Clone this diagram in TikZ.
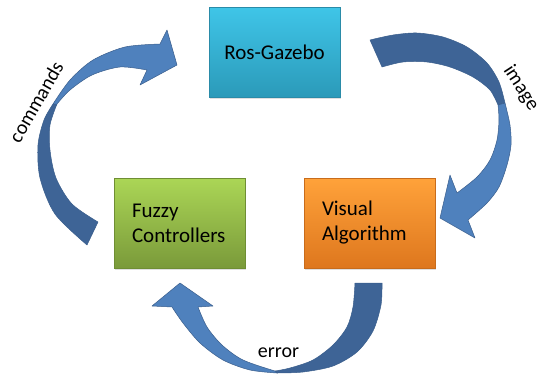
\documentclass[tikz,border=0pt]{standalone}
\usepackage{fontspec}
\setmainfont{Carlito}
\usetikzlibrary{shadows}
\definecolor{arrlight}{HTML}{4F81BD}
\definecolor{arrdark}{HTML}{3E6496}
\definecolor{arredge}{HTML}{3A5E8C}
\definecolor{rosT}{HTML}{3FC5E8}
\definecolor{rosB}{HTML}{2B9AB9}
\definecolor{rosE}{HTML}{2A8BA8}
\definecolor{fuzT}{HTML}{ABD656}
\definecolor{fuzB}{HTML}{7A9A3A}
\definecolor{fuzE}{HTML}{6F8E34}
\definecolor{visT}{HTML}{FFA23A}
\definecolor{visB}{HTML}{DE771E}
\definecolor{visE}{HTML}{C86C1C}
\begin{document}
\begin{tikzpicture}[x=1pt,y=-1pt,
  boxbase/.style={rectangle, minimum width=131pt, minimum height=90pt,
    line width=0.6pt, font=\fontsize{21}{25}\selectfont,
    drop shadow={shadow xshift=1.2pt, shadow yshift=-1.5pt, opacity=0.25}},
  sidebox/.style={boxbase, inner xsep=18pt, text width=95pt, align=left},
  topbox/.style={boxbase, inner xsep=8pt, text width=115pt, align=center},
  darkpart/.style={fill=arrdark, draw=arredge, line width=0.5pt, line join=round},
  lightpart/.style={fill=arrlight, draw=arredge, line width=0.5pt, line join=round},
  lbl/.style={font=\fontsize{20}{24}\selectfont, inner sep=1pt}
]
\useasboundingbox (0,0) rectangle (542,381);

% boxes
\node[topbox, top color=rosT, bottom color=rosB, draw=rosE] (ros) at (274.5,52) {Ros-Gazebo};
\node[sidebox, top color=fuzT, bottom color=fuzB, draw=fuzE] (fuzzy) at (179.5,223) {Fuzzy\\Controllers};
\node[sidebox, top color=visT, bottom color=visB, draw=visE] (visual) at (369.5,223) {Visual\\Algorithm};

% commands arrow
\path[darkpart] plot[smooth] coordinates {(98,222) (72,204) (56,178) (50,150) (50,125) (57,104)}
  -- plot[smooth] coordinates {(53,104) (44,120) (38,145) (40,178) (55,214) (87,245)} -- cycle;
\path[lightpart] plot[smooth] coordinates {(53,104) (70,80) (93,60) (125,47) (160,44)}
  -- (167,30) -- (177,65) -- (140,85) -- (147,70)
  -- plot[smooth] coordinates {(147,70) (120,67) (92,75) (70,90) (57,104)} -- cycle;

% image arrow
\path[darkpart] plot[smooth] coordinates {(370,40) (393,35) (417,33) (443,37) (467,47) (487,63) (499,82) (505,103)}
  -- plot[smooth] coordinates {(498,105) (490,90) (473,77) (450,67) (427,62) (403,62) (382,67)} -- cycle;
\path[lightpart] plot[smooth] coordinates {(505,103) (510,125) (511,145) (507,165) (499,187) (487,203) (468,220)}
  -- (475,238) -- (440,218) -- (450,175) -- (457,193)
  -- plot[smooth] coordinates {(457,193) (477,177) (490,160) (497,140) (499,120) (498,105)} -- cycle;

% error arrow
\path[darkpart] plot[smooth] coordinates {(382,283) (381,305) (373,331) (357,352) (333,366) (303,372) (277,373)}
  -- plot[smooth] coordinates {(275,371) (290,368) (313,360) (333,345) (347,327) (353,307) (355,283)} -- cycle;
\path[lightpart] plot[smooth] coordinates {(277,373) (250,370) (223,360) (200,343) (183,323) (172,307)}
  -- (152,306) -- (180,283) -- (213,306) -- (198,307)
  -- plot[smooth] coordinates {(198,307) (207,327) (222,345) (243,360) (275,371)} -- cycle;

% labels
\node[lbl, rotate=60] (cmd) at (36,102) {commands};
\node[lbl, rotate=-57] (img) at (521,88) {image};
\node[lbl, anchor=base] (err) at (278.5,357) {error};
\end{tikzpicture}
\end{document}
